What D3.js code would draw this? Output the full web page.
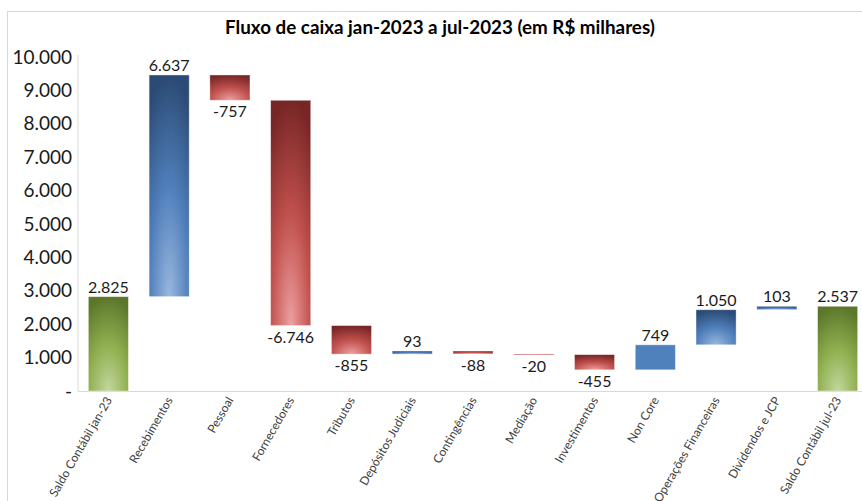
<!DOCTYPE html>
<meta charset="utf-8">
<script src="https://d3js.org/d3.v7.min.js"></script>
<style>
  body { margin: 0; background: #fff; }
  text { font-family: Lato, "Open Sans", sans-serif; }
</style>
<div id="chart"></div>
<script>
  // data
  const categories = ["Saldo Contábil jan-23", "Recebimentos", "Pessoal", "Fornecedores", "Tributos",
    "Depósitos Judiciais", "Contingências", "Mediação", "Investimentos", "Non Core",
    "Operações Financeiras", "Dividendos e JCP", "Saldo Contábil jul-23"];
  const values = [2825, 6637, -757, -6746, -855, 93, -88, -20, -455, 749, 1050, 103, 2537];
  const isTotal = [true, false, false, false, false, false, false, false, false, false, false, false, true];
  const yTicks = [0, 1000, 2000, 3000, 4000, 5000, 6000, 7000, 8000, 9000, 10000];

  const width = 862, height = 501;
  const plotLeft = 78, plotRight = 868, plotTop = 57, plotBottom = 391;

  const svg = d3.select("#chart").append("svg")
    .attr("width", width)
    .attr("height", height);

  const locale = d3.formatLocale({ decimal: ",", thousands: ".", grouping: [3], currency: ["R$", ""], minus: "-" });
  const fmt = locale.format(",d");

  // running totals for the waterfall
  let run = 0;
  const bars = categories.map((c, i) => {
    let y0, y1;
    if (isTotal[i]) { y0 = 0; y1 = values[i]; run = values[i]; }
    else { y0 = run; y1 = run + values[i]; run = y1; }
    const kind = isTotal[i] ? "total" : (values[i] >= 0 ? "pos" : "neg");
    return { cat: c, value: values[i], lo: Math.min(y0, y1), hi: Math.max(y0, y1), kind: kind };
  });

  const x = d3.scaleBand().domain(categories).range([plotLeft, plotRight]).paddingInner(0.34).paddingOuter(0.17);
  const y = d3.scaleLinear().domain([0, 10000]).range([plotBottom, plotTop]);

  // chart border
  svg.append("rect")
    .attr("x", 7.5).attr("y", 11.5)
    .attr("width", 900).attr("height", 600)
    .attr("fill", "none").attr("stroke", "#d9d9d9");

  // gradients
  const defs = svg.append("defs");
  const grads = {
    total: ["#c3d79d", "#8faf4f", "#5c772b"],
    pos: ["#9ab7de", "#4f7fbb", "#2b4a74"],
    neg: ["#eda0a0", "#c0504d", "#772626"]
  };
  Object.keys(grads).forEach(k => {
    const g = defs.append("radialGradient")
      .attr("id", "g-" + k)
      .attr("cx", 0.5).attr("cy", 1).attr("r", 1)
      .attr("fx", 0.5).attr("fy", 1);
    g.append("stop").attr("offset", "0%").attr("stop-color", grads[k][0]);
    g.append("stop").attr("offset", "50%").attr("stop-color", grads[k][1]);
    g.append("stop").attr("offset", "100%").attr("stop-color", grads[k][2]);
  });
  const flatBars = new Set(["Non Core"]);

  // axes lines
  svg.append("line")
    .attr("x1", plotLeft).attr("x2", plotLeft)
    .attr("y1", plotTop - 2).attr("y2", plotBottom)
    .attr("stroke", "#d9d9d9");
  svg.append("line")
    .attr("x1", plotLeft).attr("x2", width)
    .attr("y1", plotBottom + 0.5).attr("y2", plotBottom + 0.5)
    .attr("stroke", "#d9d9d9");

  // y tick labels
  svg.append("g").selectAll("text")
    .data(yTicks)
    .join("text")
    .attr("x", 72)
    .attr("y", d => y(d))
    .attr("dy", "0.35em")
    .attr("text-anchor", "end")
    .attr("font-size", 19)
    .attr("fill", "#1a1a1a")
    .text(d => d === 0 ? "-" : fmt(d));

  // bars
  svg.append("g").selectAll("rect")
    .data(bars)
    .join("rect")
    .attr("x", d => x(d.cat))
    .attr("y", d => y(d.hi))
    .attr("width", x.bandwidth())
    .attr("height", d => Math.max(1, y(d.lo) - y(d.hi)))
    .attr("fill", d => flatBars.has(d.cat) ? "#4f81bd" : "url(#g-" + d.kind + ")")
    .attr("stroke", "#ffffff")
    .attr("stroke-opacity", 0.5)
    .attr("stroke-width", 0.8);

  // value labels
  svg.append("g").selectAll("text")
    .data(bars)
    .join("text")
    .attr("x", d => x(d.cat) + x.bandwidth() / 2)
    .attr("y", d => d.value >= 0 ? y(d.hi) - 4 : y(d.lo) + 17)
    .attr("text-anchor", "middle")
    .attr("font-size", 16)
    .attr("fill", "#1a1a1a")
    .text(d => fmt(d.value));

  // category labels
  svg.append("g").selectAll("text")
    .data(categories)
    .join("text")
    .attr("transform", d => `translate(${x(d) + x.bandwidth() / 2 + 4},${plotBottom + 9}) rotate(-60)`)
    .attr("text-anchor", "end")
    .attr("font-size", 12)
    .attr("fill", "#404040")
    .text(d => d);

  // title
  svg.append("text")
    .attr("x", 440)
    .attr("y", 34)
    .attr("text-anchor", "middle")
    .attr("font-size", 18.8)
    .attr("font-weight", "bold")
    .attr("fill", "#000")
    .text("Fluxo de caixa jan-2023 a jul-2023 (em R$ milhares)");
</script>
